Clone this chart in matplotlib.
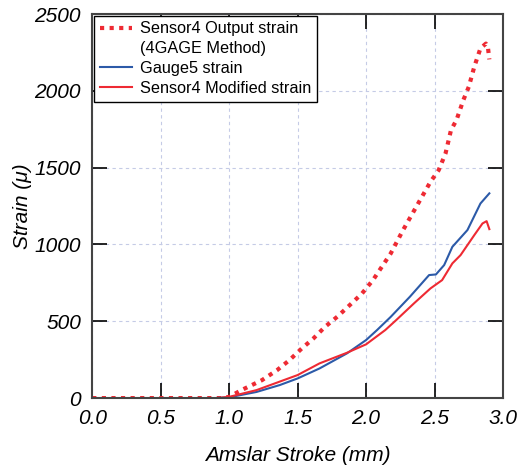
import matplotlib.pyplot as plt
from matplotlib.lines import Line2D

plt.rcParams['font.family'] = ['Liberation Sans', 'DejaVu Sans']

# 读图得到的数据 (Amslar stroke mm, strain μ)
out_x = [0.0, 0.5, 0.95, 1.0, 1.09, 1.24, 1.35, 1.44, 1.53, 1.615, 1.70, 1.79, 1.88, 1.97,
         2.05, 2.18, 2.27, 2.38, 2.47, 2.53, 2.58, 2.62, 2.66, 2.71, 2.75, 2.79, 2.835,
         2.875, 2.89, 2.90]
out_y = [0, 0, 0, 8, 52, 117, 182, 247, 323, 388, 464, 530, 605, 681,
         768, 942, 1094, 1267, 1408, 1484, 1593, 1745, 1810, 1940, 2027, 2157, 2277,
         2308, 2280, 2205]

gauge_x = [0.0, 0.5, 0.9, 1.0, 1.20, 1.37, 1.50, 1.66, 1.86, 2.0, 2.08, 2.18, 2.32, 2.46,
           2.51, 2.57, 2.63, 2.74, 2.835, 2.90]
gauge_y = [0, 0, 0, 5, 40, 85, 128, 193, 291, 378, 443, 529, 660, 801,
           805, 866, 985, 1094, 1267, 1333]

mod_x = [0.0, 0.5, 0.9, 1.0, 1.20, 1.50, 1.66, 1.86, 2.0, 2.14, 2.22, 2.35, 2.47, 2.555,
         2.63, 2.69, 2.79, 2.85, 2.88, 2.90]
mod_y = [0, 0, 0, 8, 52, 150, 226, 295, 350, 443, 508, 617, 714, 768,
         877, 931, 1061, 1137, 1152, 1100]

labels = ['Sensor4 Output strain', '(4GAGE Method)', 'Gauge5 strain',
          'Sensor4 Modified strain']

red = '#ee2a33'
blue = '#2c5aa8'

fig = plt.figure(figsize=(5.24, 4.70), dpi=100)
ax = fig.add_axes([0.176, 0.153, 0.784, 0.817])

h1, = ax.plot(out_x, out_y, color=red, lw=3, linestyle=(0, (1, 1.3)))
h2, = ax.plot(gauge_x, gauge_y, color=blue, lw=1.5)
h3, = ax.plot(mod_x, mod_y, color=red, lw=1.5)
blank = Line2D([], [], color='none')  # 第二行说明文字, 无图例线

ax.set_xlim(0, 3.0)
ax.set_ylim(0, 2500)
ax.set_xticks([0.0, 0.5, 1.0, 1.5, 2.0, 2.5, 3.0])
ax.set_yticks([0, 500, 1000, 1500, 2000, 2500])
ax.set_xticklabels(['0.0', '0.5', '1.0', '1.5', '2.0', '2.5', '3.0'])

ax.grid(True, color='#c5cbe6', linestyle=(0, (3, 3)), lw=0.8)
ax.tick_params(axis='both', which='major', direction='in', length=11, width=1.2,
               top=True, right=True, labelsize=15, pad=8)
for lab in ax.get_xticklabels() + ax.get_yticklabels():
    lab.set_fontstyle('italic')
for sp in ax.spines.values():
    sp.set_color('#444444')
    sp.set_linewidth(1.5)

ax.set_xlabel('Amslar Stroke (mm)', fontsize=15, fontstyle='italic', labelpad=13)
ax.set_ylabel('Strain (μ)', fontsize=15, fontstyle='italic', labelpad=2)

leg = ax.legend([h1, blank, h2, h3], labels, loc='upper left', fontsize=11.7,
                frameon=True, fancybox=False, edgecolor='black', framealpha=1,
                borderaxespad=0.1, handlelength=2.0, handletextpad=0.5,
                labelspacing=0.3, borderpad=0.35)
leg.get_frame().set_linewidth(1.0)

plt.savefig('out.png', dpi=100)
